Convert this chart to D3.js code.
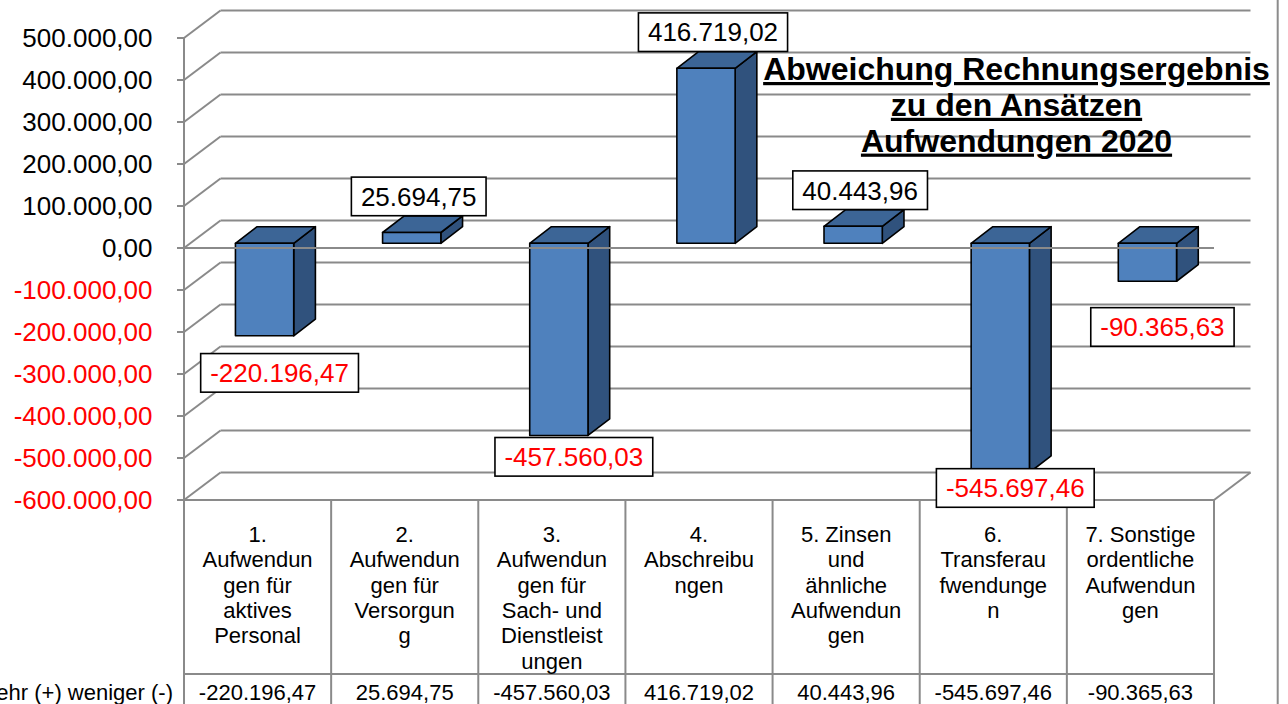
<!DOCTYPE html>
<html><head><meta charset="utf-8">
<script src="https://cdn.jsdelivr.net/npm/d3@7"></script>
<style>html,body{margin:0;padding:0;background:#fff;overflow:hidden}svg{display:block}</style>
</head><body>
<svg id="chart" width="1288" height="704"></svg>
<script>
// ---------- data ----------
const categories = [
  "1.\nAufwendun\ngen für\naktives\nPersonal",
  "2.\nAufwendun\ngen für\nVersorgun\ng",
  "3.\nAufwendun\ngen für\nSach- und\nDienstleist\nungen",
  "4.\nAbschreibu\nngen",
  "5. Zinsen\nund\nähnliche\nAufwendun\ngen",
  "6.\nTransferau\nfwendunge\nn",
  "7. Sonstige\nordentliche\nAufwendun\ngen"
];
const values = [-220196.47, 25694.75, -457560.03, 416719.02, 40443.96, -545697.46, -90365.63];
const tickValues = [500000, 400000, 300000, 200000, 100000, 0, -100000, -200000, -300000, -400000, -500000, -600000];
const titleLines = ["Abweichung Rechnungsergebnis", "zu den Ansätzen", "Aufwendungen 2020"];
const rowHeader = "Mehr (+) weniger (-)";

// ---------- setup ----------
const locale = d3.formatLocale({decimal: ",", thousands: ".", grouping: [3], currency: ["", "€"], minus: "-"});
const fmt = locale.format(",.2f");

const svg = d3.select("#chart");
const FONT = "'Liberation Sans', Arial, Helvetica, sans-serif";
const GRID = "#8a8a8a";

const x0 = 184, x1 = 1214;
const DX = 36.5, DY = -27.5;          // wall depth
const BOFF = {x: 7, y: -4.7};          // bar front-face offset inside depth
const BD = {x: 21.7, y: -16.6};        // bar depth

const y = d3.scaleLinear().domain([-600000, 500000]).range([500, 38]);
const x = d3.scaleBand().domain(d3.range(categories.length)).range([x0, x1])
  .paddingInner(0.604).paddingOuter(0.302);
const step = x.step();
const yMin = y.domain()[0];

// ---------- walls / gridlines ----------
const g = svg.append("g");
g.selectAll("line.side").data(tickValues).join("line")
  .attr("x1", x0).attr("y1", d => y(d)).attr("x2", x0 + DX).attr("y2", d => y(d) + DY)
  .attr("stroke", GRID).attr("stroke-width", 2);
g.selectAll("line.back").data(tickValues).join("line")
  .attr("x1", x0 + DX).attr("y1", d => y(d) + DY).attr("x2", x1 + DX).attr("y2", d => y(d) + DY)
  .attr("stroke", GRID).attr("stroke-width", 2);
g.append("line").attr("x1", x1 + DX).attr("y1", y(yMin) + DY).attr("x2", x1).attr("y2", y(yMin))
  .attr("stroke", GRID).attr("stroke-width", 2);
// left axis + ticks
g.append("line").attr("x1", x0).attr("y1", y(500000) - 1).attr("x2", x0).attr("y2", 704)
  .attr("stroke", GRID).attr("stroke-width", 2);
g.selectAll("line.tick").data(tickValues).join("line")
  .attr("x1", x0 - 7).attr("y1", d => y(d)).attr("x2", x0).attr("y2", d => y(d))
  .attr("stroke", GRID).attr("stroke-width", 2);

// ---------- bars ----------
const bw = x.bandwidth();
const barData = values.map((v, i) => {
  const bx = x(i) + BOFF.x;
  const top = y(Math.max(v, 0)) + BOFF.y;
  const bot = y(Math.min(v, 0)) + BOFF.y;
  return {v, i, bx, top, bot};
});
const bars = svg.append("g").selectAll("g").data(barData).join("g")
  .attr("stroke", "#000").attr("stroke-width", 1.6).attr("stroke-linejoin", "round");
bars.append("path").attr("fill", "#30527d")
  .attr("d", d => `M${d.bx + bw},${d.top} L${d.bx + bw + BD.x},${d.top + BD.y} L${d.bx + bw + BD.x},${d.bot + BD.y} L${d.bx + bw},${d.bot} Z`);
bars.append("path").attr("fill", "#3c6596")
  .attr("d", d => `M${d.bx},${d.top} L${d.bx + BD.x},${d.top + BD.y} L${d.bx + bw + BD.x},${d.top + BD.y} L${d.bx + bw},${d.top} Z`);
bars.append("rect").attr("fill", "#4f81bd")
  .attr("x", d => d.bx).attr("y", d => d.top).attr("width", bw).attr("height", d => d.bot - d.top);

// front zero axis line (over bars)
svg.append("line").attr("x1", x0).attr("y1", y(0)).attr("x2", x1).attr("y2", y(0))
  .attr("stroke", GRID).attr("stroke-width", 2);

// ---------- table ----------
const tg = svg.append("g").attr("stroke", GRID).attr("stroke-width", 2);
tg.append("line").attr("x1", x0).attr("y1", y(yMin)).attr("x2", x1).attr("y2", y(yMin));
tg.append("line").attr("x1", x0).attr("y1", 674).attr("x2", x1).attr("y2", 674);
tg.selectAll("line.col").data(d3.range(1, categories.length + 1)).join("line")
  .attr("x1", i => x0 + i * step).attr("y1", y(yMin)).attr("x2", i => x0 + i * step).attr("y2", 704);

const catG = svg.append("g").attr("font-family", FONT).attr("font-size", 22).attr("fill", "#000")
  .attr("text-anchor", "middle");
categories.forEach((c, i) => {
  const cx = x0 + (i + 0.5) * step;
  c.split("\n").forEach((ln, k) => {
    catG.append("text").attr("x", cx).attr("y", 542 + k * 25.3).text(ln);
  });
  catG.append("text").attr("x", cx).attr("y", 700).text(fmt(values[i]));
});
catG.append("text").attr("x", 173).attr("y", 700).attr("text-anchor", "end").text(rowHeader);

// ---------- y tick labels ----------
svg.append("g").attr("font-family", FONT).attr("font-size", 26).attr("text-anchor", "end")
  .selectAll("text").data(tickValues).join("text")
  .attr("x", 152.5).attr("y", d => y(d) + 9)
  .attr("fill", d => d < 0 ? "#ff0000" : "#000")
  .text(d => fmt(d));

// ---------- data labels ----------
const lg = svg.append("g").attr("font-family", FONT).attr("font-size", 26);
barData.forEach(d => {
  const cx = d.bx + bw / 2 + (d.v >= 0 ? 7 : 15);
  let cy;
  if (d.v >= 0) cy = d.top + BD.y - 19.5;
  else cy = y(0) + 47 + (y(d.v) - y(0)) * 0.842;
  const grp = lg.append("g");
  const rect = grp.append("rect").attr("fill", "#fff").attr("stroke", "#000").attr("stroke-width", 1.6);
  const t = grp.append("text").attr("x", cx).attr("y", cy + 9.3).attr("text-anchor", "middle")
    .attr("fill", d.v < 0 ? "#ff0000" : "#000").text(fmt(d.v));
  const w = t.node().getComputedTextLength() + 19;
  rect.attr("x", cx - w / 2).attr("y", cy - 19.3).attr("width", w).attr("height", 38.6);
});

// ---------- title ----------
svg.append("g").attr("font-family", FONT).attr("font-size", 32).attr("font-weight", "bold")
  .attr("text-anchor", "middle").attr("text-decoration", "underline")
  .selectAll("text").data(titleLines).join("text")
  .attr("x", 1016.5).attr("y", (d, i) => 80 + i * 35.8).text(d => d);

// right border
svg.append("line").attr("x1", 1277.7).attr("y1", 0).attr("x2", 1277.7).attr("y2", 704)
  .attr("stroke", "#8c8c8c").attr("stroke-width", 2);
</script>
</body></html>
